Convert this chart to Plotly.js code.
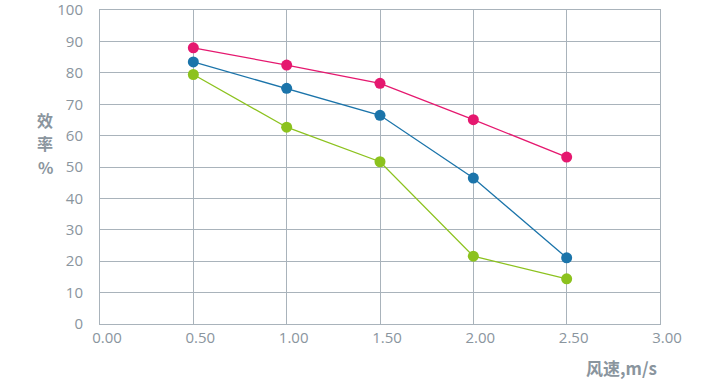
<!DOCTYPE html>
<html>
<head>
<meta charset="utf-8">
<script src="https://cdn.plot.ly/plotly-3.0.1.min.js"></script>
<style>html,body{margin:0;padding:0;background:#fff;}#chart{width:710px;height:387px;}</style>
</head>
<body>
<div id="chart"></div>
<script>
const windSpeed = [0.5, 1.0, 1.5, 2.0, 2.5];
const seriesPink = [88, 82.5, 76.7, 65.1, 53.2];
const seriesBlue = [83.5, 75.1, 66.5, 46.5, 21.1];
const seriesGreen = [79.5, 62.7, 51.7, 21.6, 14.4];
const xTickVals = [0, 0.5, 1, 1.5, 2, 2.5, 3];
const xTickText = ["0.00", "0.50", "1.00", "1.50", "2.00", "2.50", "3.00"];
const yTickVals = [0, 10, 20, 30, 40, 50, 60, 70, 80, 90, 100];
const yTitleChars = ["效", "率", "%"];
const xTitle = "风速,m/s";

const colors = ["#e5186f", "#1b74aa", "#8cc21e"];
const allSeries = [seriesPink, seriesBlue, seriesGreen];
const traces = allSeries.map((s, i) => ({
  x: windSpeed, y: s, type: "scatter", mode: "lines+markers",
  line: {color: colors[i], width: 1.3},
  marker: {color: colors[i], size: 11},
  showlegend: false, hoverinfo: "none", cliponaxis: false
}));

const font = "'Segoe UI', 'Open Sans', 'Noto Sans CJK SC', sans-serif";
const gray = "#8a959e";
const grid = "#a9b3bb";

const annotations = yTitleChars.map((c, i) => ({
  text: "<b>" + c + "</b>", xref: "paper", yref: "paper",
  x: -0.098, y: 0.65 - i * 0.075,
  xanchor: "center", yanchor: "middle", showarrow: false, borderpad: 0,
  font: {family: "'Noto Sans CJK SC', sans-serif", size: 16, color: gray}
}));
annotations.push({text: "<b>" + xTitle + "</b>", xref: "paper", yref: "paper", x: 0.932, y: -0.14,
  xanchor: "center", yanchor: "middle", showarrow: false,
  font: {family: "'Noto Sans CJK SC', sans-serif", size: 17, color: gray}});

const layout = {
  width: 710, height: 387,
  margin: {l: 100, r: 50, t: 10, b: 63},
  paper_bgcolor: "#fff", plot_bgcolor: "#fff",
  font: {family: font, color: gray, size: 15},
  xaxis: {
    range: [0, 3], tickvals: xTickVals, ticktext: xTickText,
    showgrid: true, gridcolor: grid, gridwidth: 1,
    showline: true, linecolor: grid, linewidth: 1, mirror: true,
    zeroline: false, ticks: "", ticklabelshift: 7,
    tickfont: {size: 15, color: gray}, fixedrange: true
  },
  yaxis: {
    range: [0, 100.05], tickvals: yTickVals,
    showgrid: true, gridcolor: grid, gridwidth: 1,
    showline: true, linecolor: grid, linewidth: 1, mirror: true,
    zeroline: false, ticks: "", ticklabelstandoff: 13,
    ticklabeloverflow: "allow",
    tickfont: {size: 15, color: gray}, fixedrange: true
  },
  annotations: annotations
};

Plotly.newPlot("chart", traces, layout, {displayModeBar: false, staticPlot: true});
</script>
</body>
</html>
